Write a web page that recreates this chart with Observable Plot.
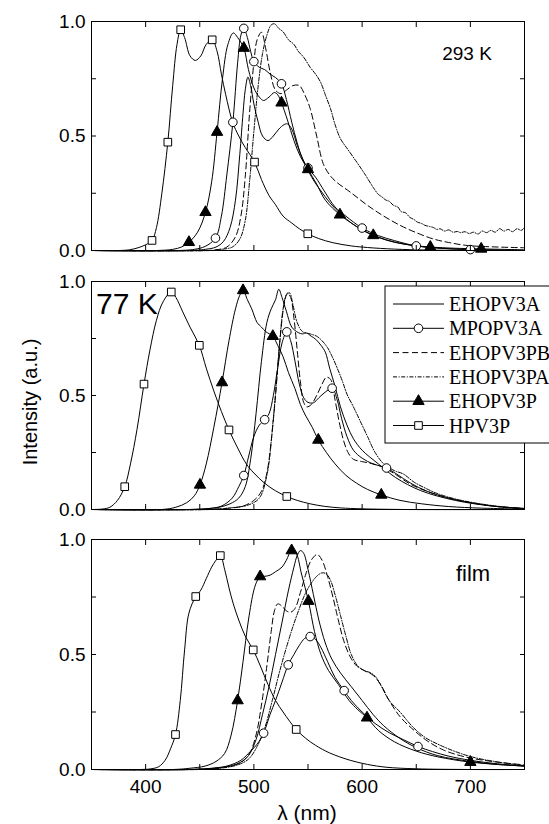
<!DOCTYPE html>
<html><head><meta charset="utf-8">
<script src="https://cdn.jsdelivr.net/npm/d3@7"></script>
<script src="https://cdn.jsdelivr.net/npm/@observablehq/plot@0.6"></script>
<style>
body{margin:0;background:#fff;}
#chart{position:relative;width:549px;height:824px;overflow:hidden;background:#fff;}
#chart svg{display:block;}
</style></head><body><div id="chart"></div>
<script>
// ---------- tick values ----------
const xTicks = [350, 400, 450, 500, 550, 600, 650, 700, 750];
const xTickLabels = [400, 500, 600, 700];
const yTicks = [0, 0.25, 0.5, 0.75, 1];
const yTickLabels = [0, 0.5, 1];
const seriesNames = ["EHOPV3A", "MPOPV3A", "EHOPV3PB", "EHOPV3PA", "EHOPV3P", "HPV3P"];
const panelLabels = ["293 K", "77 K", "film"];

// ---------- panel 1 : 293 K ----------
const rt_HPV3P = [[350,0],[375,0],[385,0.003],[393,0.012],[400,0.025],[405.9,0.044],[410,0.1],[415,0.25],[420.5,0.473],[425,0.72],[429,0.9],[432.4,0.964],[436,0.93],[441,0.85],[446,0.83],[451,0.85],[456,0.9],[461.5,0.92],[466,0.87],[470,0.77],[474,0.68],[480.4,0.56],[486,0.5],[492,0.45],[500.6,0.386],[507,0.31],[514,0.24],[520,0.2],[527,0.15],[535,0.12],[542,0.095],[549.8,0.073],[560,0.052],[573,0.034],[590,0.02],[605,0.013],[630,0.006],[660,0.002],[700,0.0005],[750,0]];
const rt_HPV3P_m = [[405.9,0.044],[420.5,0.473],[432.4,0.964],[461.5,0.92],[500.6,0.386],[549.8,0.073]];
const rt_EHOPV3P = [[350,0],[410,0],[425,0.005],[433,0.015],[440,0.036],[448,0.08],[455.3,0.167],[461,0.3],[466,0.517],[471,0.75],[476,0.9],[481,0.95],[485,0.93],[490.7,0.884],[495,0.79],[500,0.71],[505,0.67],[509,0.655],[514,0.67],[519,0.69],[522,0.68],[525.5,0.645],[531,0.57],[537,0.48],[543,0.41],[550,0.354],[558,0.29],[566,0.22],[579.5,0.156],[590,0.12],[600,0.09],[610.3,0.066],[625,0.042],[640,0.027],[663,0.015],[685,0.01],[710,0.007],[750,0.003]];
const rt_EHOPV3P_m = [[440,0.036],[455.3,0.167],[466,0.517],[490.7,0.884],[525.5,0.645],[550,0.354],[579.5,0.156],[610.3,0.066],[663,0.015],[710,0.007]];
const rt_MPOPV3A = [[350,0],[430,0],[445,0.005],[455,0.018],[464.5,0.054],[470,0.15],[475,0.33],[480.6,0.56],[485,0.82],[488,0.94],[490.7,0.97],[494,0.93],[497,0.87],[500,0.825],[505,0.8],[510,0.79],[515,0.77],[520,0.755],[525.5,0.728],[530,0.66],[535,0.56],[540,0.47],[545,0.4],[550,0.36],[557,0.32],[565,0.26],[575,0.19],[585,0.15],[600,0.098],[615,0.065],[630,0.043],[650,0.02],[675,0.009],[700,0.004],[750,0]];
const rt_MPOPV3A_m = [[464.5,0.054],[480.6,0.56],[490.7,0.97],[500,0.825],[525.5,0.728],[550,0.36],[600,0.098],[650,0.02],[700,0.004]];
const rt_EHOPV3A = [[350,0],[440,0],[455,0.005],[465,0.015],[472,0.04],[478,0.1],[483,0.22],[487,0.42],[490,0.6],[492,0.7],[494.5,0.757],[497,0.72],[500,0.64],[504,0.56],[508,0.5],[513,0.48],[518,0.5],[523,0.53],[528,0.55],[531,0.553],[535,0.53],[540,0.46],[545,0.4],[550,0.35],[556,0.3],[562,0.26],[570,0.21],[580,0.16],[590,0.12],[600,0.09],[615,0.058],[630,0.037],[650,0.02],[680,0.008],[710,0.003],[750,0]];
const rt_EHOPV3PB = [[350,0],[455,0],[465,0.003],[475,0.015],[483,0.06],[488,0.15],[492,0.32],[496,0.6],[500,0.82],[503,0.92],[507,0.953],[511,0.88],[515,0.78],[520,0.7],[525,0.685],[530,0.7],[536,0.72],[542,0.72],[547,0.68],[552,0.62],[558,0.5],[564,0.38],[570,0.33],[576,0.3],[589,0.255],[605,0.197],[620,0.15],[635,0.11],[650,0.078],[666,0.05],[680,0.035],[697,0.022],[720,0.016],[750,0.012]];
const rt_EHOPV3PA = [[350,0],[460,0],[470,0.005],[480,0.015],[487,0.05],[492,0.13],[496,0.3],[500,0.52],[504,0.72],[508,0.86],[512,0.94],[516,0.985],[519,0.99],[523,0.97],[527,0.955],[532,0.92],[537,0.9],[541,0.87],[546,0.844],[552,0.8],[557,0.77],[561.6,0.735],[566,0.68],[570.8,0.619],[575,0.55],[580,0.488],[587,0.44],[595,0.386],[603,0.33],[611,0.27],[615,0.245],[618,0.235],[622,0.22],[625,0.215],[629,0.197],[633,0.19],[636,0.17],[640,0.165],[644,0.145],[648,0.135],[651,0.124],[655,0.118],[658,0.11],[662,0.105],[666,0.1],[669,0.092],[672,0.095],[676,0.085],[680,0.09],[684,0.08],[688,0.083],[691,0.078],[695,0.082],[699,0.074],[703,0.08],[707,0.072],[711,0.085],[715,0.078],[719,0.088],[723,0.08],[727,0.095],[731,0.085],[735,0.092],[739,0.082],[743,0.095],[747,0.088],[750,0.1]];

// ---------- panel 2 : 77 K ----------
const lt_HPV3P = [[350,0],[360,0.002],[367,0.01],[374,0.04],[380.7,0.1],[386,0.2],[392,0.35],[398.5,0.55],[404,0.7],[410,0.83],[416,0.91],[423.7,0.954],[428,0.93],[434,0.87],[441,0.8],[449.6,0.72],[456,0.62],[463,0.52],[470,0.43],[477,0.349],[485,0.27],[493,0.2],[500,0.16],[510,0.115],[520,0.082],[530.4,0.057],[540,0.04],[552,0.025],[565,0.014],[580,0.007],[600,0.003],[640,0],[750,0]];
const lt_HPV3P_m = [[380.7,0.1],[398.5,0.55],[423.7,0.954],[449.6,0.72],[477,0.349],[530.4,0.057]];
const lt_EHOPV3P = [[350,0],[415,0],[428,0.01],[438,0.03],[445,0.06],[450.2,0.108],[456,0.2],[463,0.36],[470.6,0.557],[477,0.74],[483,0.88],[487,0.94],[490,0.961],[494,0.92],[498,0.88],[503,0.82],[507,0.8],[511,0.78],[517.5,0.76],[522,0.72],[527,0.67],[532,0.6],[538,0.53],[543,0.46],[548,0.41],[554,0.36],[559.5,0.305],[567,0.25],[575,0.2],[585,0.15],[595,0.115],[605,0.088],[617.7,0.064],[635,0.04],[655,0.025],[680,0.013],[710,0.006],[750,0.002]];
const lt_EHOPV3P_m = [[450.2,0.108],[470.6,0.557],[490,0.961],[517.5,0.76],[559.5,0.305],[617.7,0.064]];
const lt_MPOPV3A = [[350,0],[440,0],[460,0.005],[470,0.015],[480,0.05],[486,0.1],[490.7,0.149],[495,0.23],[500,0.32],[505,0.37],[510,0.394],[514,0.42],[518,0.5],[522,0.62],[526,0.73],[530.4,0.779],[534,0.74],[538,0.65],[542,0.55],[546,0.49],[550,0.47],[555,0.468],[560,0.49],[566,0.515],[572.3,0.532],[577,0.48],[581,0.4],[586,0.32],[592,0.26],[600,0.225],[610,0.2],[622.5,0.182],[632,0.155],[645,0.115],[660,0.08],[680,0.05],[700,0.03],[725,0.013],[750,0.005]];
const lt_MPOPV3A_m = [[490.7,0.149],[510,0.394],[530.4,0.779],[572.3,0.532],[622.5,0.182]];
const lt_EHOPV3A = [[350,0],[440,0],[455,0.003],[468,0.01],[478,0.025],[486,0.05],[492,0.1],[497,0.22],[502,0.42],[507,0.65],[512,0.82],[516,0.88],[520,0.92],[523,0.966],[526,0.93],[530,0.87],[535,0.8],[541,0.776],[545,0.77],[548,0.775],[553,0.76],[557,0.747],[562,0.72],[566,0.69],[570,0.62],[575,0.54],[580,0.45],[586,0.37],[592,0.31],[600,0.26],[615,0.2],[631,0.14],[654,0.083],[686,0.04],[720,0.015],[750,0.004]];
const lt_EHOPV3PB = [[350,0],[450,0],[475,0.005],[490,0.015],[500,0.04],[507,0.08],[512,0.16],[516,0.3],[520,0.5],[524,0.74],[528,0.9],[531,0.95],[534,0.93],[537,0.84],[540,0.7],[543,0.56],[546,0.47],[549,0.45],[553,0.46],[558,0.5],[563,0.55],[567,0.58],[571,0.57],[575,0.48],[579,0.38],[583,0.3],[587,0.25],[592,0.22],[600,0.21],[610,0.2],[620,0.185],[632,0.15],[645,0.11],[660,0.08],[680,0.05],[700,0.03],[725,0.013],[750,0.004]];
const lt_EHOPV3PA = [[350,0],[460,0],[480,0.008],[495,0.02],[505,0.05],[512,0.15],[518,0.4],[523,0.68],[527,0.88],[530,0.94],[533,0.95],[536,0.9],[540,0.82],[545,0.78],[552,0.77],[558,0.76],[563,0.74],[568,0.71],[572,0.674],[577,0.62],[582,0.56],[586,0.506],[592,0.45],[598,0.39],[605,0.32],[612,0.25],[620,0.2],[630,0.17],[638,0.156],[648,0.12],[660,0.09],[670,0.069],[690,0.042],[719,0.018],[750,0.003]];

// ---------- panel 3 : film ----------
const fm_HPV3P = [[350,0],[395,0],[405,0.003],[412,0.012],[418,0.04],[423,0.09],[427.6,0.152],[432,0.3],[436,0.52],[440,0.68],[446.3,0.752],[451,0.78],[456,0.83],[461,0.88],[465,0.91],[469,0.93],[473,0.87],[477,0.79],[481,0.72],[486,0.65],[492,0.58],[499.4,0.52],[506,0.45],[513,0.37],[520,0.3],[527,0.25],[533,0.21],[539.1,0.174],[548,0.135],[557,0.105],[570,0.072],[589,0.04],[605,0.022],[622,0.01],[650,0.003],[700,0],[750,0]];
const fm_HPV3P_m = [[427.6,0.152],[446.3,0.752],[469,0.93],[499.4,0.52],[539.1,0.174]];
const fm_EHOPV3P = [[350,0],[425,0],[440,0.005],[455,0.015],[465,0.035],[473,0.07],[479,0.15],[485,0.3],[490,0.47],[495,0.65],[500,0.78],[503,0.82],[505.8,0.839],[510,0.84],[515,0.845],[520,0.86],[526,0.88],[530,0.91],[534.9,0.952],[539,0.94],[544,0.85],[550.4,0.732],[556,0.6],[562,0.5],[569,0.43],[578,0.37],[588,0.3],[596,0.26],[604.5,0.225],[615,0.17],[630,0.12],[650,0.08],[670,0.055],[700,0.032],[725,0.022],[750,0.015]];
const fm_EHOPV3P_m = [[485,0.3],[505.8,0.839],[534.9,0.952],[550.4,0.732],[604.5,0.225],[700,0.032]];
const fm_MPOPV3A = [[350,0],[440,0],[460,0.005],[475,0.015],[488,0.04],[497,0.08],[503,0.11],[509,0.158],[515,0.24],[520,0.3],[526,0.38],[531.7,0.455],[537,0.5],[542,0.54],[547,0.57],[552,0.578],[557,0.565],[562,0.53],[568,0.47],[575,0.4],[583.4,0.343],[590,0.3],[600,0.25],[612,0.2],[625,0.16],[638,0.13],[651.6,0.1],[665,0.078],[680,0.058],[700,0.04],[725,0.025],[750,0.015]];
const fm_MPOPV3A_m = [[509,0.158],[531.7,0.455],[552,0.578],[583.4,0.343],[651.6,0.1]];
const fm_EHOPV3A = [[350,0],[440,0],[460,0.004],[475,0.012],[487,0.03],[495,0.06],[502,0.13],[508,0.24],[514,0.36],[520,0.5],[526,0.64],[532,0.78],[537,0.88],[540,0.93],[543,0.952],[546,0.94],[550,0.87],[555,0.76],[560,0.65],[566,0.55],[572,0.48],[580,0.42],[590,0.36],[600,0.3],[610,0.24],[620,0.19],[635,0.135],[650,0.095],[670,0.06],[700,0.035],[725,0.022],[750,0.015]];
const fm_EHOPV3PB = [[350,0],[440,0],[460,0.004],[475,0.012],[488,0.03],[496,0.07],[502,0.15],[507,0.28],[512,0.45],[516,0.6],[519,0.69],[522,0.72],[526,0.71],[530,0.69],[534,0.684],[538,0.7],[543,0.77],[548,0.85],[553,0.91],[558.5,0.935],[563,0.91],[568,0.84],[573,0.75],[578,0.65],[583,0.56],[589,0.49],[595,0.45],[602,0.43],[610,0.41],[617,0.37],[625,0.3],[635,0.23],[648,0.17],[660,0.125],[675,0.085],[695,0.055],[720,0.035],[750,0.02]];
const fm_EHOPV3PA = [[350,0],[450,0],[470,0.006],[485,0.02],[495,0.045],[503,0.1],[510,0.18],[517,0.3],[524,0.43],[530,0.53],[536,0.62],[542,0.7],[548,0.77],[553,0.81],[558,0.84],[563,0.855],[567,0.85],[571,0.82],[575,0.76],[580,0.67],[585,0.58],[590,0.5],[596,0.45],[602,0.43],[608,0.42],[613,0.4],[618,0.36],[625,0.3],[635,0.25],[647,0.184],[658,0.14],[670,0.11],[685,0.08],[702,0.054],[725,0.033],[750,0.017]];

// ---------- styles ----------
const FONT = "'Liberation Sans', Arial, Helvetica, sans-serif";
const SERIF = "'Liberation Serif', 'Times New Roman', serif";
const styles = {
  EHOPV3A:  {dash: null, symbol: null},
  MPOPV3A:  {dash: null, symbol: "circle", fill: "white", r: 4.3},
  EHOPV3PB: {dash: "6,3.5", symbol: null},
  EHOPV3PA: {dash: "4,1.6,1,1.6", symbol: null},
  EHOPV3P:  {dash: null, symbol: "triangle", fill: "black", r: 4.2},
  HPV3P:    {dash: null, symbol: "square", fill: "white", r: 4.3}
};

const panels = [
  {label: panelLabels[0], curves: {EHOPV3A: rt_EHOPV3A, MPOPV3A: rt_MPOPV3A, EHOPV3PB: rt_EHOPV3PB, EHOPV3PA: rt_EHOPV3PA, EHOPV3P: rt_EHOPV3P, HPV3P: rt_HPV3P},
   markers: {MPOPV3A: rt_MPOPV3A_m, EHOPV3P: rt_EHOPV3P_m, HPV3P: rt_HPV3P_m}, height: 260, mt: 21, mb: 10, showX: false},
  {label: panelLabels[1], curves: {EHOPV3A: lt_EHOPV3A, MPOPV3A: lt_MPOPV3A, EHOPV3PB: lt_EHOPV3PB, EHOPV3PA: lt_EHOPV3PA, EHOPV3P: lt_EHOPV3P, HPV3P: lt_HPV3P},
   markers: {MPOPV3A: lt_MPOPV3A_m, EHOPV3P: lt_EHOPV3P_m, HPV3P: lt_HPV3P_m}, height: 259, mt: 21, mb: 10, showX: false},
  {label: panelLabels[2], curves: {EHOPV3A: fm_EHOPV3A, MPOPV3A: fm_MPOPV3A, EHOPV3PB: fm_EHOPV3PB, EHOPV3PA: fm_EHOPV3PA, EHOPV3P: fm_EHOPV3P, HPV3P: fm_HPV3P},
   markers: {MPOPV3A: fm_MPOPV3A_m, EHOPV3P: fm_EHOPV3P_m, HPV3P: fm_HPV3P_m}, height: 305, mt: 20, mb: 55, showX: true}
];

function makePanel(p) {
  const marks = [];
  for (const name of seriesNames) {
    const s = styles[name];
    marks.push(Plot.line(p.curves[name], {x: d => d[0], y: d => d[1], stroke: "black", strokeWidth: 1, strokeDasharray: s.dash, curve: "catmull-rom"}));
  }
  for (const name of seriesNames) {
    const s = styles[name];
    if (!s.symbol) continue;
    marks.push(Plot.dot(p.markers[name], {x: d => d[0], y: d => d[1], symbol: s.symbol, r: s.r, fill: s.fill, stroke: "black", strokeWidth: 1}));
  }
  marks.push(Plot.frame({stroke: "black", strokeWidth: 1}));
  marks.push(Plot.axisX(xTicks, {anchor: "bottom", tickSize: -5, tickPadding: 15, label: null, fontSize: 19,
    tickFormat: d => (p.showX && xTickLabels.includes(d)) ? String(d) : ""}));
  marks.push(Plot.axisX(xTicks, {anchor: "top", tickSize: -5, label: null, tickFormat: () => ""}));
  marks.push(Plot.axisY(yTicks, {anchor: "left", tickSize: -5, tickPadding: 11, label: null, fontSize: 19,
    tickFormat: d => yTickLabels.includes(d) ? d.toFixed(1) : ""}));
  marks.push(Plot.axisY(yTicks, {anchor: "right", tickSize: -5, label: null, tickFormat: () => ""}));
  return Plot.plot({
    width: 549, height: p.height,
    marginLeft: 91, marginRight: 25, marginTop: p.mt, marginBottom: p.mb,
    x: {domain: [350, 750]}, y: {domain: [0, 1]},
    style: {fontFamily: FONT, fontSize: "19px", background: "white", color: "black", overflow: "hidden"},
    marks
  });
}

const chart = document.getElementById("chart");
const svgs = panels.map(p => { const el = makePanel(p); chart.appendChild(el); return el; });

function addText(svg, x, y, str, size, anchor, family, transform) {
  const t = d3.select(svg).append("text")
    .attr("text-anchor", anchor).attr("dominant-baseline", "central")
    .attr("font-family", family).attr("font-size", size).attr("fill", "black").text(str);
  if (transform) t.attr("transform", transform); else t.attr("x", x).attr("y", y);
  return t;
}

// panel labels
addText(svgs[0], 467, 53, panels[0].label, 19, "middle", FONT);
addText(svgs[1], 96, 43, panels[1].label, 30, "start", FONT);
addText(svgs[2], 473, 54, panels[2].label, 22, "middle", FONT);

// axis titles
addText(svgs[1], 0, 0, "Intensity (a.u.)", 20, "middle", FONT, "translate(30,142) rotate(-90)");
addText(svgs[2], 307, 293, "λ (nm)", 21, "middle", FONT);

// legend (panel 2)
const lg = d3.select(svgs[1]).append("g");
lg.append("rect").attr("x", 385).attr("y", 26).attr("width", 180).attr("height", 157)
  .attr("fill", "white").attr("stroke", "black").attr("stroke-width", 1);
seriesNames.forEach((name, i) => {
  const s = styles[name];
  const y = 44 + i * 24.3;
  lg.append("line").attr("x1", 393).attr("x2", 444).attr("y1", y).attr("y2", y)
    .attr("stroke", "black").attr("stroke-width", 1).attr("stroke-dasharray", s.dash);
  if (s.symbol) {
    const sym = {circle: d3.symbolCircle, triangle: d3.symbolTriangle, square: d3.symbolSquare}[s.symbol];
    lg.append("path").attr("transform", `translate(418.5,${y})`).attr("d", d3.symbol(sym, Math.PI * s.r * s.r)())
      .attr("fill", s.fill).attr("stroke", "black").attr("stroke-width", 1);
  }
  lg.append("text").attr("x", 449).attr("y", y).attr("text-anchor", "start").attr("dominant-baseline", "central")
    .attr("font-family", SERIF).attr("font-size", 20).attr("fill", "black").text(name);
});
</script>
</body></html>
